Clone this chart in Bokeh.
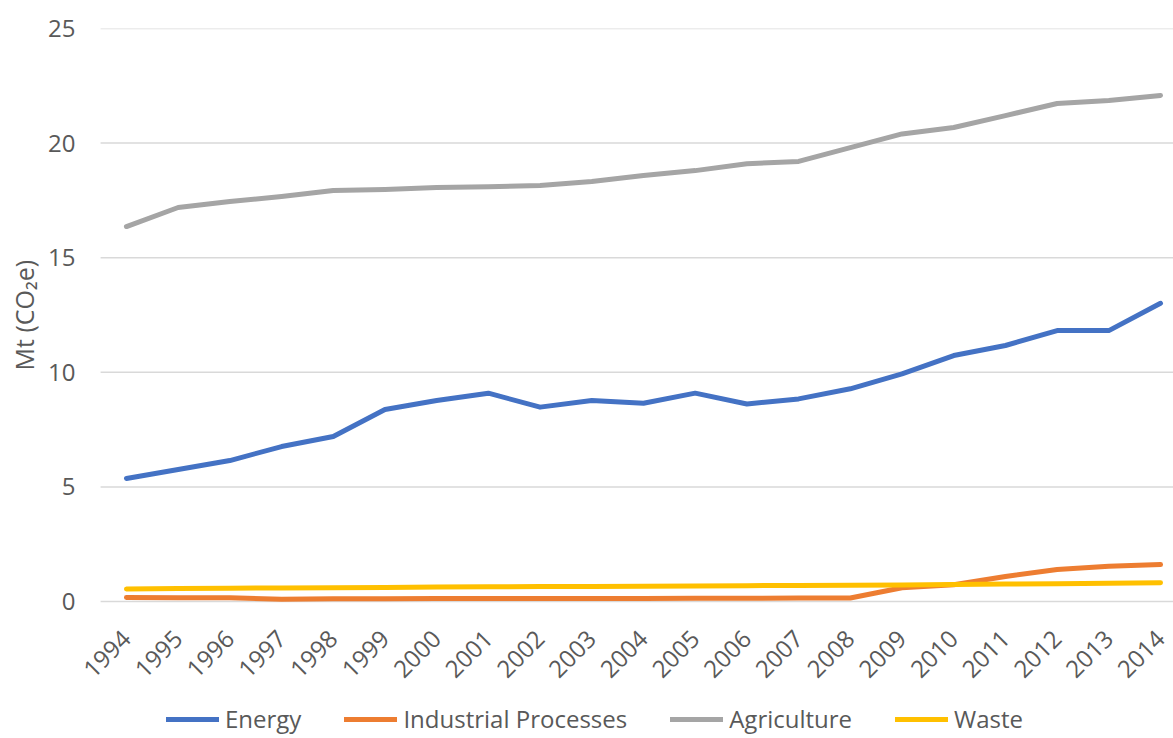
import math
from bokeh.plotting import figure
from bokeh.models import Range1d, FixedTicker, Legend, LegendItem, Title
from bokeh.core.properties import value
from bokeh.embed import file_html
from bokeh.resources import INLINE

years = list(range(1994, 2015))
year_labels = [str(y) for y in years]
energy = [5.37, 5.76, 6.15, 6.76, 7.20, 8.38, 8.77, 9.09, 8.48, 8.77, 8.65,
          9.09, 8.62, 8.84, 9.28, 9.93, 10.73, 11.17, 11.82, 11.82, 13.01]
industrial = [0.17, 0.16, 0.16, 0.10, 0.12, 0.12, 0.13, 0.13, 0.13, 0.13, 0.13,
              0.14, 0.14, 0.15, 0.15, 0.60, 0.73, 1.09, 1.40, 1.54, 1.61]
agriculture = [16.36, 17.19, 17.45, 17.67, 17.93, 17.98, 18.06, 18.10, 18.15, 18.32, 18.59,
               18.80, 19.10, 19.20, 19.80, 20.40, 20.68, 21.20, 21.73, 21.86, 22.08]
waste = [0.55, 0.57, 0.58, 0.59, 0.60, 0.61, 0.63, 0.64, 0.65, 0.66, 0.67,
         0.68, 0.69, 0.70, 0.71, 0.72, 0.74, 0.76, 0.78, 0.80, 0.82]
series_names = ["Energy", "Industrial Processes", "Agriculture", "Waste"]
y_ticks = [0, 5, 10, 15, 20, 25]
y_label = "Mt (CO\u2082e)"

colors = ["#4472C4", "#ED7D31", "#A5A5A5", "#FFC000"]
FONT = "Open Sans"
TXT = "#595959"

# frame spans the full height below the top border; value 0 sits 137px above its bottom
p = figure(width=1173, height=738, output_backend="svg", toolbar_location=None,
           x_range=Range1d(1993.092, 2014.251), y_range=Range1d(-5.977, 25),
           x_axis_location=None,
           min_border_left=78, min_border_top=28, min_border_right=0, min_border_bottom=0)
p.outline_line_color = None
p.background_fill_color = "white"
p.border_fill_color = "white"

# horizontal gridlines spanning the category area (half a category beyond first/last year)
n_t = len(y_ticks)
p.segment(x0=[years[0] - 0.5] * n_t, x1=[years[-1] + 0.5] * n_t, y0=y_ticks, y1=y_ticks,
          line_color="#D9D9D9", line_width=1.5)

renderers = []
for name, ys, c in zip(series_names, [energy, industrial, agriculture, waste], colors):
    r = p.line(years, ys, line_color=c, line_width=5, line_join="round", line_cap="round")
    renderers.append((name, r))

# category (year) labels under the zero line
p.text(x=years, y=[0] * len(years), text=year_labels, angle=math.pi / 4,
       text_align="right", text_baseline="middle", x_offset=0, y_offset=33,
       text_font=value(FONT), text_font_size="24px", text_color=TXT)

# y axis
p.yaxis.ticker = FixedTicker(ticks=y_ticks)
p.yaxis.axis_line_color = None
p.yaxis.major_tick_line_color = None
p.yaxis.minor_tick_line_color = None
p.yaxis.major_tick_out = 0
p.yaxis.major_tick_in = 0
p.yaxis.major_label_text_font = FONT
p.yaxis.major_label_text_font_size = "24px"
p.yaxis.major_label_text_color = TXT
p.yaxis.major_label_standoff = 4

ylab = Title(text=y_label, align="left", offset=368, standoff=9,
             text_font=FONT, text_font_size="25px", text_font_style="normal",
             text_color=TXT)
p.add_layout(ylab, "left")

p.xgrid.grid_line_color = None
p.ygrid.grid_line_color = None

legend = Legend(items=[LegendItem(label=n, renderers=[r]) for n, r in renderers],
                orientation="horizontal", location=(87, 3),
                label_text_font=FONT, label_text_font_size="24px", label_text_color=TXT,
                glyph_width=53, glyph_height=24, label_height=24, label_standoff=6,
                spacing=43, padding=0, margin=0, border_line_color=None,
                background_fill_alpha=0)
p.add_layout(legend, "center")

open("out.html", "w").write(file_html(p, INLINE))
